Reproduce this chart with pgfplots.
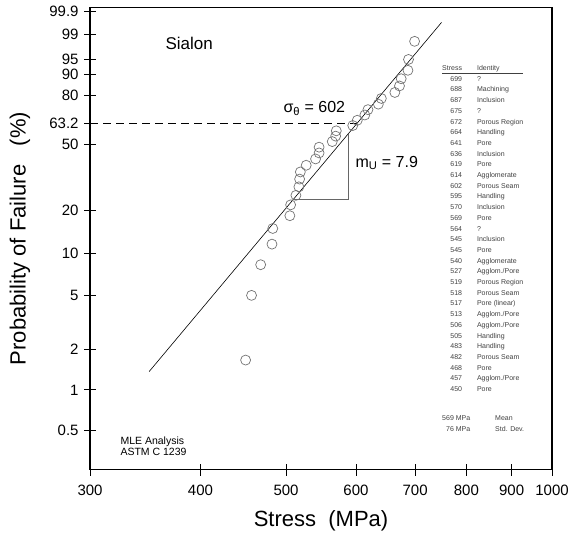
\documentclass[border=0pt]{standalone}
\usepackage{pgfplots}
\pgfplotsset{compat=1.18}
\usepackage{fontspec}
\setmainfont{Liberation Sans}

% Weibull plot: y values are ln(-ln(1-F)), F=(i-0.5)/N
\pgfplotstableread{
s    w
450 -4.0859
457 -2.9702
468 -2.4418
482 -2.0870
483 -1.8170
505 -1.5969
506 -1.4098
513 -1.2459
517 -1.0992
518 -0.9656
519 -0.8422
527 -0.7269
540 -0.6180
545 -0.5144
545 -0.4150
564 -0.3188
569 -0.2250
570 -0.1330
595 -0.0420
602  0.0486
614  0.1397
619  0.2320
636  0.3266
641  0.4249
664  0.5285
672  0.6404
675  0.7647
687  0.9102
688  1.0972
699  1.4096
}\sialon

\begin{document}
\begin{tikzpicture}
\useasboundingbox (-90pt,-66.5pt) rectangle (480pt,469.5pt);
\begin{axis}[
  name=ax, at={(0,0)}, anchor=south west,
  scale only axis, width=462pt, height=462pt,
  xmode=log, xmin=300, xmax=1000,
  ymin=-5.9725, ymax=1.993,
  xtick={300,400,500,600,700,800,900,1000},
  xticklabels={300,400,500,600,700,800,900,1000},
  ytick={-5.2958,-4.6002,-3.9019,-2.9702,-2.2504,-1.4999,-0.3665,0,0.4759,0.8340,1.0972,1.5272,1.9327},
  yticklabels={0.5,1,2,5,10,20,50,63.2,80,90,95,99,99.9},
  minor tick num=0,
  tick align=center, xtick pos=bottom, ytick pos=left,
  major tick length=12pt,
  tick style={black, line width=0.9pt},
  axis line style={line width=1.3pt},
  ticklabel style={font=\fontsize{15}{18}\selectfont},
  xticklabel style={yshift=-6pt},
  yticklabel style={xshift=-2pt},
  /pgf/number format/assume math mode=true,
  xlabel={Stress\ \ (MPa)},
  ylabel={Probability of Failure\ \ \ (\%)},
  label style={font=\fontsize{22}{26}\selectfont},
  xlabel style={at={(axis description cs:0.5,-0.1104)}, anchor=center},
  ylabel style={at={(axis description cs:-0.1515,0.5)}, anchor=center},
  clip=false,
]
% 63.2 % line up to the characteristic strength
\addplot[black, line width=0.8pt, dash pattern=on 8pt off 5pt] coordinates {(300,0) (602,0)};
% fitted line, m = 7.9, sigma_theta = 602
\addplot[black, line width=0.6pt] coordinates {(350,-4.284) (750,1.7363)};
% slope triangle
\addplot[black!60, line width=0.8pt] coordinates {(510,-1.3102) (588,-1.3102) (588,-0.1859)};
\addplot[only marks, mark=o, mark size=5pt, mark options={black!55, line width=0.7pt}] table[x=s, y=w] {\sialon};

\node[anchor=west, font=\fontsize{17}{20}\selectfont] at (axis description cs:0.1558,0.9232) {Sialon};
\node[anchor=west, font=\fontsize{16}{19}\selectfont] at (axis description cs:0.4113,0.7814) {σ\textsubscript{θ} = 602};
\node[anchor=west, font=\fontsize{16}{19}\selectfont] at (axis description cs:0.5671,0.6634) {m\textsubscript{U} = 7.9};
\node[anchor=west, align=left, font=\fontsize{10.5}{11}\selectfont] at (axis description cs:0.0584,0.0498) {MLE Analysis\\ASTM C 1239};

\node[anchor=north west, inner sep=0pt, text=black!75, font=\fontsize{7}{10.7}\selectfont] at (axis description cs:0.7619,0.8810) {%
\begin{tabular}{@{}r@{\hspace{15pt}}l@{}}
Stress & Identity\\ \hline
699 & ?\\
688 & Machining\\
687 & Inclusion\\
675 & ?\\
672 & Porous Region\\
664 & Handling\\
641 & Pore\\
636 & Inclusion\\
619 & Pore\\
614 & Agglomerate\\
602 & Porous Seam\\
595 & Handling\\
570 & Inclusion\\
569 & Pore\\
564 & ?\\
545 & Inclusion\\
545 & Pore\\
540 & Agglomerate\\
527 & Agglom./Pore\\
519 & Porous Region\\
518 & Porous Seam\\
517 & Pore (linear)\\
513 & Agglom./Pore\\
506 & Agglom./Pore\\
505 & Handling\\
483 & Handling\\
482 & Porous Seam\\
468 & Pore\\
457 & Agglom./Pore\\
450 & Pore
\end{tabular}};

\node[anchor=north west, inner sep=0pt, text=black!75, font=\fontsize{7}{11}\selectfont] at (axis description cs:0.7619,0.1223) {%
\begin{tabular}{@{}r@{\hspace{25pt}}l@{}}
569 MPa & Mean\\
76 MPa & Std. Dev.
\end{tabular}};
\end{axis}
\end{tikzpicture}
\end{document}
